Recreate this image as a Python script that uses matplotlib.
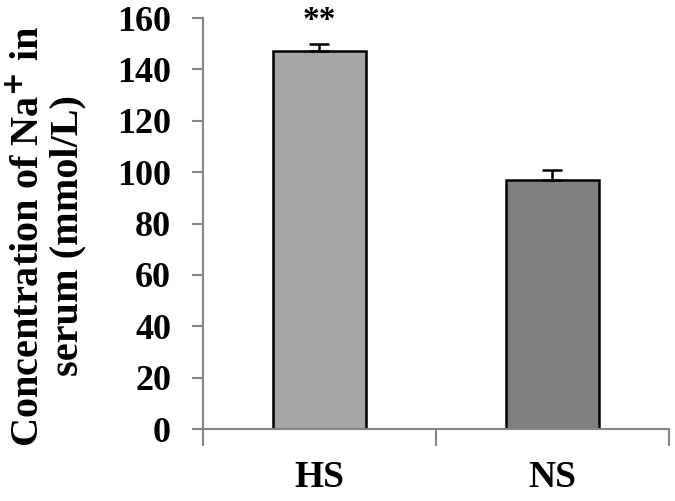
import matplotlib
matplotlib.use("Agg")
import matplotlib.pyplot as plt
import numpy as np

categories = ["HS", "NS"]
values = [147.3, 96.8]
errors = [2.4, 4.0]
colors = ["#a6a6a6", "#7f7f7f"]
yticks = [0, 20, 40, 60, 80, 100, 120, 140, 160]
annotations = ["**", ""]

plt.rcParams['font.family'] = ['Liberation Serif', 'DejaVu Serif']
plt.rcParams['font.weight'] = 'bold'

fig = plt.figure(figsize=(6.75, 5.01), dpi=100)
ax = fig.add_axes([0.3007, 0.1437, 0.6903, 0.8203])

x = np.arange(len(categories))
ax.bar(x, values, width=0.4, color=colors, edgecolor="black", linewidth=1.8, zorder=2)
ax.errorbar(x, values, yerr=[[0, 0], errors], fmt="none", ecolor="black",
            elinewidth=1.8, capsize=7, capthick=1.8, zorder=3)
for xi, v, e, a in zip(x, values, errors, annotations):
    if a:
        ax.annotate(a, (xi, v + e), xytext=(0, 17), textcoords="offset points",
                    ha="center", va="center", fontsize=24, fontweight="bold")

ax.set_xlim(-0.5, 1.5)
ax.set_ylim(0, 160)
ax.set_yticks(yticks)
ax.set_yticklabels([str(t) for t in yticks], fontsize=26, fontweight="bold")
ax.set_xticks([-0.5, 0.5, 1.5])
ax.set_xticklabels([])
ax.set_xticks(x, minor=True)
ax.set_xticklabels(categories, minor=True, fontsize=27, fontweight="bold")
ax.tick_params(axis="x", which="minor", length=0, pad=22)
ax.tick_params(axis="x", which="major", length=12, width=1.5, color="#868686", direction="out")
ax.tick_params(axis="y", length=8, width=1.5, color="#868686", direction="out", pad=15)

for s in ["top", "right"]:
    ax.spines[s].set_visible(False)
for s in ["left", "bottom"]:
    ax.spines[s].set_color("#868686")
    ax.spines[s].set_linewidth(1.5)

fig.text(48 / 675, 1 - 236 / 501, "Concentration of Na$^{\\mathbf{+}}$ in\nserum (mmol/L)", rotation=90,
         ha="center", va="center", fontsize=29, fontweight="bold", linespacing=1.05,
         multialignment="center")

fig.savefig("out.png", dpi=100)
